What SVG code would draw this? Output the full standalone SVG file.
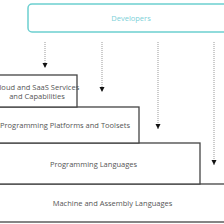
<svg xmlns="http://www.w3.org/2000/svg" width="224" height="224" viewBox="0 0 224 224">
<style>
.box{fill:#fff;stroke:#444;stroke-width:1.3}
.lbl{font-family:"Open Sans","DejaVu Sans",sans-serif;font-size:7.5px;fill:#555;text-anchor:middle}
.dev{fill:#fff;stroke:#6ccfd0;stroke-width:1.5}
.devt{font-family:"Open Sans","DejaVu Sans",sans-serif;font-size:7.5px;fill:#7dd0d8;text-anchor:middle}
.con{stroke:#999;stroke-width:1;stroke-dasharray:1 1;fill:none}
</style>
<defs>
<marker id="ah" markerWidth="6" markerHeight="6" refX="5" refY="3" orient="auto" markerUnits="userSpaceOnUse">
<path d="M0,0.5 L5,3 L0,5.5 Z" fill="#111"/>
</marker>
</defs>
<rect width="224" height="224" fill="#fff"/>
<g id="developers">
<rect class="dev" x="28" y="4" width="210" height="28" rx="4"/>
<text class="devt" x="131" y="20.5">Developers</text>
</g>
<g id="machine">
<rect class="box" x="-20" y="184" width="270" height="38"/>
<text class="lbl" x="112.5" y="205.7">Machine and Assembly Languages</text>
</g>
<g id="languages">
<rect class="box" x="-20" y="143" width="220" height="41"/>
<text class="lbl" x="93.5" y="166.5">Programming Languages</text>
</g>
<g id="platforms">
<rect class="box" x="-20" y="107" width="159" height="36"/>
<text class="lbl" x="65" y="127.5">Programming Platforms and Toolsets</text>
</g>
<g id="cloud">
<rect class="box" x="-20" y="75" width="97" height="32"/>
<text class="lbl" x="37" y="89.5">Cloud and SaaS Services</text>
<text class="lbl" x="37" y="98.5">and Capabilities</text>
</g>
<g id="connectors">
<line class="con" x1="45" y1="42" x2="45" y2="68" marker-end="url(#ah)"/>
<line class="con" x1="102" y1="42" x2="102" y2="92" marker-end="url(#ah)"/>
<line class="con" x1="158" y1="42" x2="158" y2="129" marker-end="url(#ah)"/>
<line class="con" x1="214" y1="42" x2="214" y2="165" marker-end="url(#ah)"/>
</g>
</svg>
